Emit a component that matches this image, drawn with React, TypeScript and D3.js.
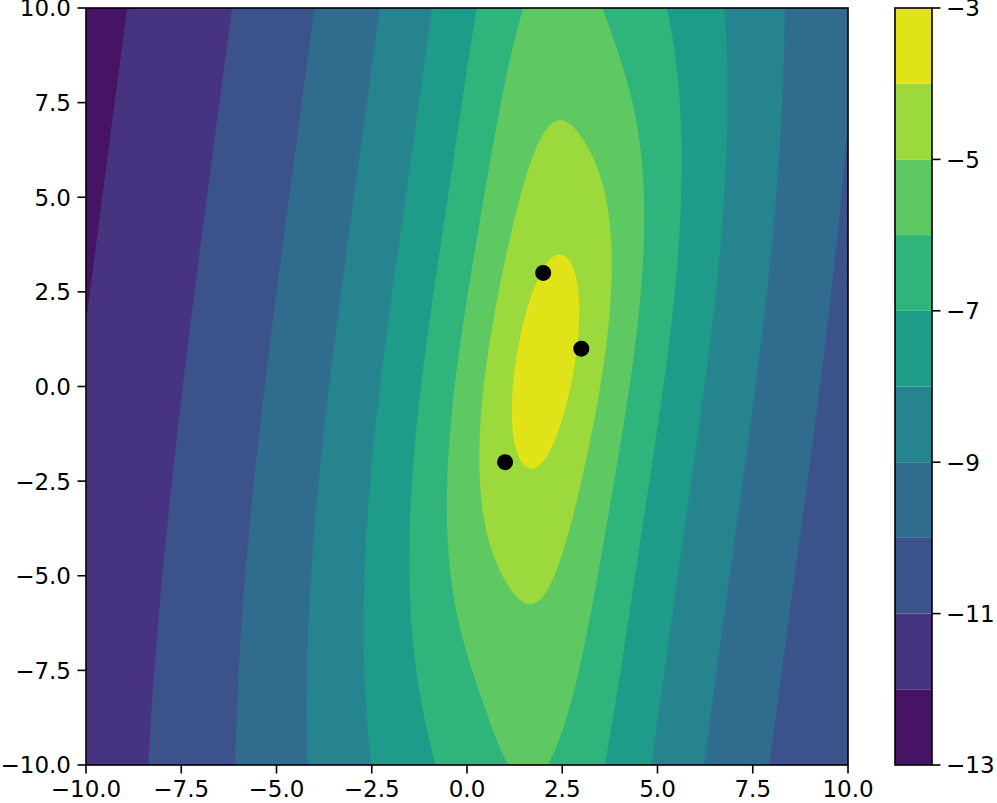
import React, { useMemo } from "react";
import * as d3 from "d3";

// the three observed points
const pointX = [1, 2, 3];
const pointY = [-2, 3, 1];

// contour levels, colorbar ticks and axis ticks
const levels = [-13, -12, -11, -10, -9, -8, -7, -6, -5, -4, -3];
const cbarTicks = [-13, -11, -9, -7, -5, -3];
const axisTicks = [-10, -7.5, -5, -2.5, 0, 2.5, 5, 7.5, 10];

// log density surface: two Student-t bumps
const bumpCx = [2.0678, 2.04553];
const bumpCy = [0.67441, 0.63305];
const bumpChol = [
  [-0.31412, -0.1392, -1.50166],
  [-0.48497, -0.02042, -2.40167],
];
const bumpWeight = [0.7152, 0.2848];
const tailPower = 1.99838;
const logOffset = -3.48141;

function precision(a: number, b: number, c: number) {
  const l11 = Math.exp(a), l22 = Math.exp(c);
  return [l11 * l11, l11 * b, b * b + l22 * l22];
}

const precs = bumpChol.map((c) => precision(c[0], c[1], c[2]));

function logDensity(x: number, y: number) {
  let s = 0;
  for (let k = 0; k < 2; k++) {
    const [a, b, c] = precs[k];
    const dx = x - bumpCx[k], dy = y - bumpCy[k];
    const q = a * dx * dx + 2 * b * dx * dy + c * dy * dy;
    s += bumpWeight[k] * Math.exp(-tailPower * Math.log(1 + q));
  }
  return logOffset + Math.log(s);
}

const left = 86, right = 848, top = 8, bottom = 765;
const N = 220;
const tickLen = 8.5;
const fs = 23;

export default function App() {
  const bands = useMemo(() => {
    const values = new Array(N * N);
    for (let j = 0; j < N; j++) {
      const gy = 10 - ((j + 0.5) * 20) / N;
      for (let i = 0; i < N; i++) {
        const gx = -10 + ((i + 0.5) * 20) / N;
        values[j * N + i] = logDensity(gx, gy);
      }
    }
    return d3.contours().size([N, N]).thresholds(levels.slice(0, 10))(values);
  }, []);

  const x = d3.scaleLinear().domain([-10, 10]).range([left, right]);
  const y = d3.scaleLinear().domain([-10, 10]).range([bottom, top]);
  const proj = d3.geoTransform({
    point(px: number, py: number) {
      this.stream.point(left + (px * (right - left)) / N, top + (py * (bottom - top)) / N);
    },
  });
  const path = d3.geoPath(proj);
  const color = (k: number) => d3.interpolateViridis(0.05 + 0.1 * k);
  const fmt = (v: number) => (v < 0 ? "\u2212" : "") + Math.abs(v).toFixed(1);
  const cbx0 = 895, cbx1 = 932;
  const cy = d3.scaleLinear().domain([-13, -3]).range([bottom, top]);

  return (
    <svg width={997} height={803} style={{ position: "absolute", left: 0, top: 0 }} fontFamily="DejaVu Sans">
      <defs>
        <clipPath id="plot">
          <rect x={left} y={top} width={right - left} height={bottom - top} />
        </clipPath>
      </defs>
      <g clipPath="url(#plot)">
        {bands.map((c, k) => (
          <path key={k} d={path(c as any) || ""} fill={color(k)} />
        ))}
      </g>
      {pointX.map((px, i) => (
        <circle key={i} cx={x(px)} cy={y(pointY[i])} r={8} fill="black" />
      ))}
      <rect x={left} y={top} width={right - left} height={bottom - top} fill="none" stroke="black" strokeWidth={1.6} />
      {axisTicks.map((t) => (
        <g key={"x" + t}>
          <line x1={x(t)} x2={x(t)} y1={bottom} y2={bottom + tickLen} stroke="black" strokeWidth={1.6} />
          <text x={x(t)} y={bottom + 32} textAnchor="middle" fontSize={fs}>{fmt(t)}</text>
        </g>
      ))}
      {axisTicks.map((t) => (
        <g key={"y" + t}>
          <line x1={left - tickLen} x2={left} y1={y(t)} y2={y(t)} stroke="black" strokeWidth={1.6} />
          <text x={left - 15} y={y(t) + 8.4} textAnchor="end" fontSize={fs}>{fmt(t)}</text>
        </g>
      ))}
      {levels.slice(0, 10).map((l, k) => (
        <rect key={l} x={cbx0} y={cy(l + 1)} width={cbx1 - cbx0} height={cy(l) - cy(l + 1)} fill={color(k)} />
      ))}
      <rect x={cbx0} y={top} width={cbx1 - cbx0} height={bottom - top} fill="none" stroke="black" strokeWidth={1.6} />
      {cbarTicks.map((t) => (
        <g key={"c" + t}>
          <line x1={cbx1} x2={cbx1 + tickLen} y1={cy(t)} y2={cy(t)} stroke="black" strokeWidth={1.6} />
          <text x={cbx1 + 14} y={cy(t) + 8.4} fontSize={fs}>{"\u2212" + Math.abs(t)}</text>
        </g>
      ))}
    </svg>
  );
}
